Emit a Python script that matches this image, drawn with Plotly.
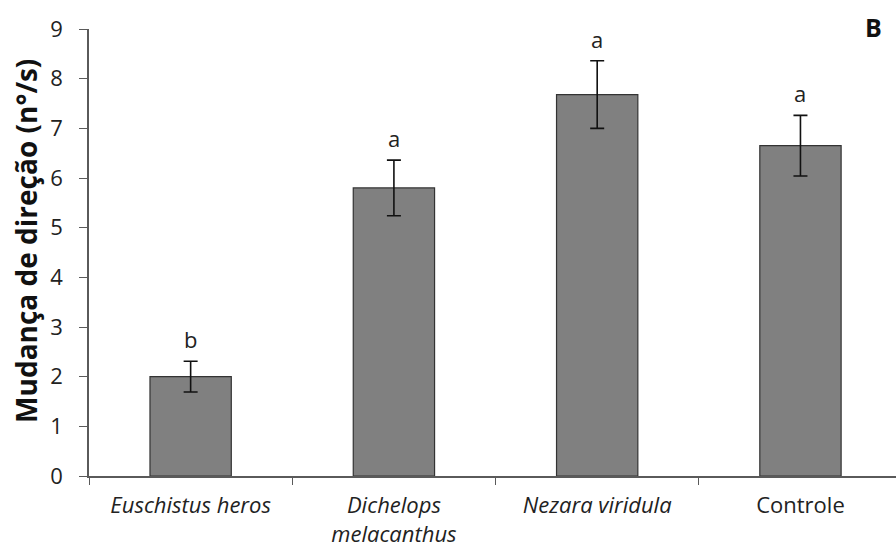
import plotly.graph_objects as go

# Species tested and the control group
categories = ["<i>Euschistus heros</i>", "<i>Dichelops</i><br><i>melacanthus</i>",
              "<i>Nezara viridula</i>", "Controle"]
means = [2.0, 5.8, 7.68, 6.65]
errors = [0.31, 0.56, 0.68, 0.61]
letters = ["b", "a", "a", "a"]
y_ticks = [0, 1, 2, 3, 4, 5, 6, 7, 8, 9]

FONT = "Open Sans, sans-serif"
AXIS_COLOR = "#5a5a5a"

fig = go.Figure()
fig.add_trace(go.Bar(
    x=categories,
    y=means,
    width=0.4,
    marker=dict(color="#808080", line=dict(color="#333333", width=1.2)),
    error_y=dict(type="data", array=errors, visible=True,
                 color="#111111", thickness=1.6, width=7),
    showlegend=False,
))

# Significance letters above each error bar
for cat, m, e, lab in zip(categories, means, errors, letters):
    fig.add_annotation(x=cat, y=m + e, text=lab, showarrow=False,
                       yanchor="bottom", yshift=5,
                       font=dict(family=FONT, size=22, color="#222222"))

# Panel label
fig.add_annotation(xref="paper", yref="paper", x=0.985, y=1.004,
                   text="<b>B</b>", showarrow=False,
                   xanchor="right", yanchor="middle",
                   font=dict(family=FONT, size=25, color="#111111"))

# Y-axis title, placed as a rotated annotation
fig.add_annotation(xref="paper", yref="paper", x=-0.0775, y=0.527,
                   text="<b>Mudança de direção (n°/s)</b>", showarrow=False,
                   textangle=-90, xanchor="center", yanchor="middle",
                   font=dict(family=FONT, size=28, color="#111111"))

fig.update_layout(
    width=896, height=550,
    margin=dict(l=89, r=0, t=29, b=74),
    plot_bgcolor="white", paper_bgcolor="white",
    bargap=0.6,
    font=dict(family=FONT, size=20, color="#222222"),
)
fig.update_xaxes(
    range=[-0.5, 3.47],
    showline=True, linecolor=AXIS_COLOR, linewidth=1.5,
    ticks="outside", tickson="boundaries", ticklen=7, tickcolor=AXIS_COLOR,
    tickfont=dict(family=FONT, size=22, color="#222222"),
    ticklabelstandoff=9, automargin=False,
    showgrid=False, zeroline=False,
)
fig.update_yaxes(
    range=[0, 9], tickvals=y_ticks,
    showline=True, linecolor=AXIS_COLOR, linewidth=1.5,
    ticks="outside", ticklen=8, tickcolor=AXIS_COLOR,
    tickfont=dict(family=FONT, size=22, color="#222222"),
    ticklabelstandoff=12, automargin=False,
    showgrid=False, zeroline=False,
)

fig.write_html("out.html")
